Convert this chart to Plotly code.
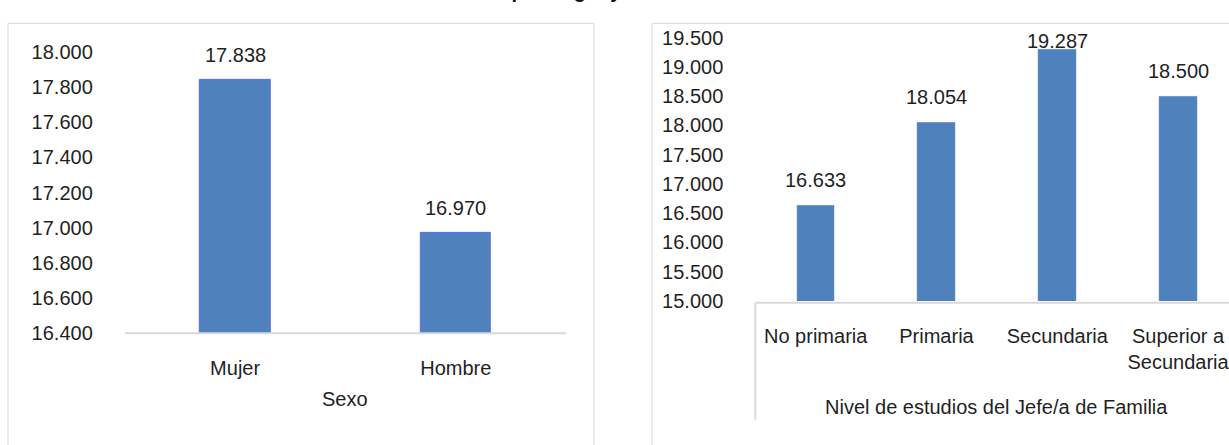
import plotly.graph_objects as go

# ---------------- data ----------------
sexo_categorias = ["Mujer", "Hombre"]
sexo_valores = [17838, 16970]

estudios_categorias = ["No primaria", "Primaria", "Secundaria", "Superior a<br>Secundaria"]
estudios_valores = [16633, 18054, 19287, 18500]

titulo = "Renta media por hogar y nivel de estudios del Jefe/a de Familia"
titulo_x1 = "Sexo"
titulo_x2 = "Nivel de estudios del Jefe/a de Familia"

# ---------------- layout constants (pixels) ----------------
W, H = 1229, 445
FONT = "Liberation Sans Narrow, Arial Narrow, Liberation Sans, Arial, sans-serif"
TXT = "#1f1f1f"
GRID = "#d9d9d9"
BAR = "#4f81bd"
FS = 20


def px(x):
    return x / W


def py(y):
    return 1 - y / H


def fmt(v):
    return f"{v:,}".replace(",", ".")


# left chart geometry
L_X0, L_X1 = 125, 567
L_YTOP, L_YBOT = 43, 339
L_RANGE = [16400, 18000]
# right chart geometry
R_X0, R_CAT = 756.5, 121
R_YTOP, R_YBOT = 28, 305
R_RANGE = [15000, 19500]

fig = go.Figure()

fig.add_trace(go.Bar(
    x=sexo_categorias, y=sexo_valores, xaxis="x", yaxis="y",
    width=0.32, marker=dict(color=BAR, line=dict(color="#5b6cf0", width=1)),
    hoverinfo="x+y", showlegend=False,
))
fig.add_trace(go.Bar(
    x=estudios_categorias, y=estudios_valores, xaxis="x2", yaxis="y2",
    width=0.31, marker=dict(color=BAR, line=dict(color="#6d98cf", width=0.5)),
    hoverinfo="x+y", showlegend=False,
))

annotations = []


def add_labels(cats, vals, xref, yref, yr, ytop_px, ybot_px, min_center_px):
    ppu = (ybot_px - ytop_px) / (yr[1] - yr[0])
    for c, v in zip(cats, vals):
        bar_top = ytop_px + (yr[1] - v) * ppu
        shift = min(25, bar_top - min_center_px)
        annotations.append(dict(
            x=c, y=v, xref=xref, yref=yref, text=fmt(v), showarrow=False,
            yanchor="middle", yshift=shift,
            font=dict(family=FONT, size=FS, color=TXT),
        ))


add_labels(sexo_categorias, sexo_valores, "x", "y", L_RANGE, L_YTOP, L_YBOT, 32)
add_labels(estudios_categorias, estudios_valores, "x2", "y2", R_RANGE, R_YTOP, R_YBOT, 32)

# axis titles
annotations.append(dict(x=px((L_X0 + L_X1) / 2), y=py(408), xref="paper", yref="paper",
                        text=titulo_x1, showarrow=False, xanchor="center", yanchor="middle",
                        font=dict(family=FONT, size=FS, color=TXT)))
annotations.append(dict(x=px(R_X0 + 2 * R_CAT), y=py(417), xref="paper", yref="paper",
                        text=titulo_x2, showarrow=False, xanchor="center", yanchor="middle",
                        font=dict(family=FONT, size=FS, color=TXT)))
# cut-off chart title at the very top (only descenders visible, as in the reference)
annotations.append(dict(x=px(690), y=py(-7), xref="paper", yref="paper",
                        text="<b>" + titulo + "</b>", showarrow=False,
                        xanchor="center", yanchor="bottom",
                        font=dict(family=FONT, size=FS, color="#111111")))

shapes = [
    # left panel border
    dict(type="rect", xref="paper", yref="paper", x0=px(8), x1=px(595), y0=py(470), y1=py(13),
         line=dict(color=GRID, width=1), fillcolor="rgba(0,0,0,0)", layer="below"),
    # right panel border
    dict(type="rect", xref="paper", yref="paper", x0=px(653), x1=px(1260), y0=py(470), y1=py(13),
         line=dict(color=GRID, width=1), fillcolor="rgba(0,0,0,0)", layer="below"),
    # left x axis line
    dict(type="line", xref="paper", yref="paper", x0=px(L_X0), x1=px(L_X1), y0=py(L_YBOT), y1=py(L_YBOT),
         line=dict(color=GRID, width=2)),
    # right x axis box
    dict(type="line", xref="paper", yref="paper", x0=px(R_X0), x1=px(1260), y0=py(R_YBOT + 2), y1=py(R_YBOT + 2),
         line=dict(color=GRID, width=2)),
    dict(type="line", xref="paper", yref="paper", x0=px(R_X0), x1=px(R_X0), y0=py(R_YBOT + 2), y1=py(430),
         line=dict(color=GRID, width=2)),
]

axis_font = dict(family=FONT, size=FS, color=TXT)

fig.update_layout(
    width=W, height=H,
    margin=dict(l=0, r=0, t=0, b=0),
    paper_bgcolor="white", plot_bgcolor="rgba(0,0,0,0)",
    separators=",.",
    bargap=0.0,
    xaxis=dict(domain=[px(L_X0), px(L_X1)], range=[-0.5, 1.5], anchor="y",
               showgrid=False, showline=False, zeroline=False, ticks="",
               tickfont=axis_font, ticklabelstandoff=21, fixedrange=True),
    yaxis=dict(domain=[py(L_YBOT), py(L_YTOP)], range=L_RANGE, anchor="x",
               dtick=200, tick0=16400, tickformat=",d",
               showgrid=False, showline=False, zeroline=False, ticks="",
               tickfont=axis_font, ticklabelstandoff=31, fixedrange=True),
    xaxis2=dict(domain=[px(R_X0), 1.0], range=[-0.5, -0.5 + (W - R_X0) / R_CAT], anchor="y2",
                showgrid=False, showline=False, zeroline=False, ticks="",
                tickfont=axis_font, ticklabelstandoff=21, fixedrange=True),
    yaxis2=dict(domain=[py(R_YBOT), py(R_YTOP)], range=R_RANGE, anchor="x2",
                dtick=500, tick0=15000, tickformat=",d",
                showgrid=False, showline=False, zeroline=False, ticks="",
                tickfont=axis_font, ticklabelstandoff=31, fixedrange=True),
    annotations=annotations,
    shapes=shapes,
)

fig.write_html(
    "out.html",
    config={"displayModeBar": False},
    post_script="document.body.style.margin='0';document.body.style.overflow='hidden';",
)
